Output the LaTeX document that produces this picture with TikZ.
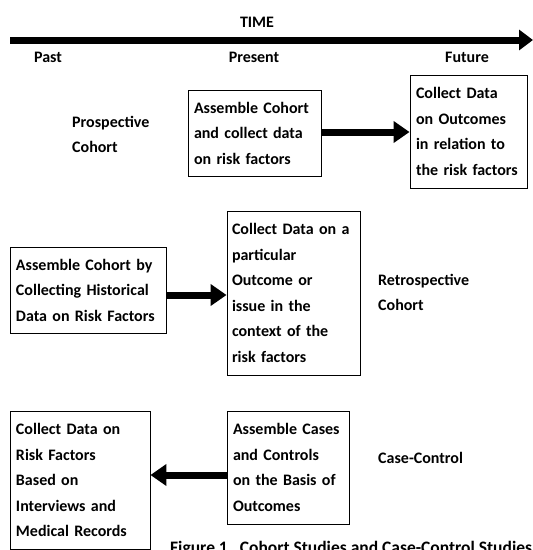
\documentclass[tikz,border=0pt]{standalone}
\usepackage{fontspec}
\setmainfont{Carlito}
\usetikzlibrary{arrows.meta}
\begin{document}
\begin{tikzpicture}[x=1pt,y=-1pt,
  every node/.style={font=\fontsize{16pt}{25.5pt}\selectfont\bfseries, inner sep=0pt},
  box/.style={draw=black, line width=0.9pt, inner xsep=6pt, inner ysep=0pt, align=left},
  lbl/.style={align=left},
  bigarrow/.style={line width=7pt, -{Triangle[length=16pt,width=21pt]}},
]
\path[use as bounding box, fill=white] (0,0) rectangle (533,550);

% time axis
\node (time) at (257,22) {TIME};
\coordinate (ts) at (10,40);
\coordinate (te) at (533,40);
\draw[line width=7pt, -{Triangle[length=14pt,width=20pt]}] (ts) -- (te);
\node (past) at (48,57) {Past};
\node (present) at (254,57) {Present};
\node (future) at (467,57) {Future};

% prospective cohort
\node[lbl, anchor=west] (pros) at (72,134.5) {Prospective\\Cohort};
\node[box, text width=121pt, minimum height=86pt] (A) at (254.5,133)
  {Assemble Cohort\\and collect data\\on risk factors};
\node[box, text width=105pt, minimum height=113pt] (B) at (468.5,131.5)
  {Collect Data\\on Outcomes\\in relation to\\the risk factors};
\draw[bigarrow] ([yshift=1pt]A.east) -- ([yshift=1pt]A.east -| B.west);

% retrospective cohort
\node[box, text width=144pt, minimum height=86pt] (C) at (88,290)
  {Assemble Cohort by\\Collecting Historical\\Data on Risk Factors};
\node[box, inner xsep=5pt, text width=123pt, minimum height=164pt] (D) at (293.5,293)
  {Collect Data on a\\particular\\Outcome or\\issue in the\\context of the\\risk factors};
\node[lbl, anchor=west] (retro) at (378,292.5) {Retrospective\\Cohort};
\draw[bigarrow] ([yshift=-5pt]C.east) -- ([yshift=-5pt]C.east -| D.west);

% case-control
\node[box, text width=128pt, minimum height=138pt] (E) at (80,480)
  {Collect Data on\\Risk Factors\\Based on\\Interviews and\\Medical Records};
\node[box, text width=110pt, minimum height=113pt] (F) at (288,467.5)
  {Assemble Cases\\and Controls\\on the Basis of\\Outcomes};
\node[anchor=west] (cc) at (378,458) {Case-Control};
\draw[bigarrow] ([yshift=-7.5pt]F.west) -- ([yshift=-7.5pt]F.west -| E.east);

% caption
\node[anchor=base west, font=\fontsize{17.5pt}{20pt}\selectfont\bfseries] (cap) at (170,553)
  {Figure 1\hspace{12pt}Cohort Studies and Case-Control Studies};
\end{tikzpicture}
\end{document}
